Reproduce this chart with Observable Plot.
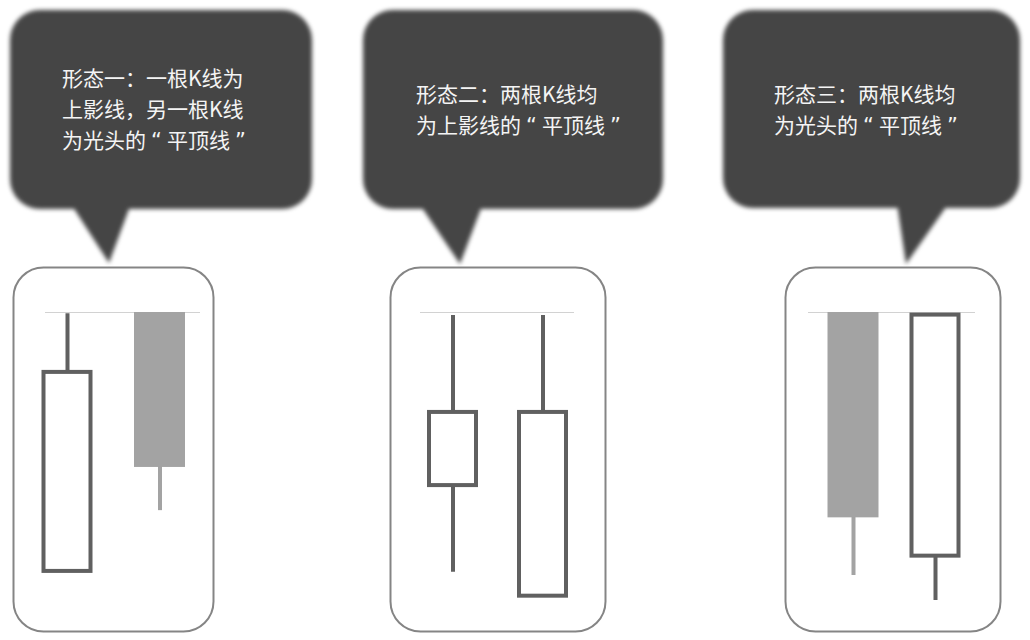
<!DOCTYPE html>
<html>
<head>
<meta charset="utf-8">
<script src="https://cdn.jsdelivr.net/npm/d3@7"></script>
<script src="https://cdn.jsdelivr.net/npm/@observablehq/plot@0.6"></script>
<style>
  html, body { margin: 0; padding: 0; background: #fff; }
  #stage { position: relative; width: 1030px; height: 640px; overflow: hidden; background: #fff; }
  .bubble-shape { position: absolute; left: 0; top: 0; width: 1030px; height: 300px; filter: blur(2px); }
  .bubble-rect, .bubble-tail { position: absolute; background: #454545; }
  .bubble-rect { border-radius: 30px; }
  .bubble-text {
    position: absolute; color: #f4f4f4;
    font-family: "Noto Sans CJK SC", "Noto Sans", sans-serif;
    font-size: 21px; line-height: 31px; white-space: pre; letter-spacing: 0;
  }
  .bubble-text .fw { font-family: "DejaVu Sans", sans-serif; display: inline-block; width: 21px; text-align: center; }
  .panel { position: absolute; top: 260px; }
</style>
</head>
<body>
<div id="stage"></div>
<script>
// ---------- data ----------
const panelNames = ["形态一", "形态二", "形态三"];
const bubbleLines = [
  ["形态一：一根K线为", "上影线，另一根K线", "为光头的“平顶线”"],
  ["形态二：两根K线均", "为上影线的“平顶线”"],
  ["形态三：两根K线均", "为光头的“平顶线”"]
];
const candleIds   = ["A", "B", "C", "D", "E", "F"];
const candlePanel = [0, 0, 1, 1, 2, 2];
const candleOpen  = [10.1, 100, 39.9, 1.5, 100, 15.4];
const candleClose = [79.2, 46.2, 65.3, 65.3, 28.7, 99.1];
const candleHigh  = [99.6, 100, 99, 99, 100, 99.1];
const candleLow   = [10.1, 31.2, 9.8, 1.5, 8.7, 0];
const flatTop     = [100, 100, 100];

// ---------- layout (positions / sizes / styles) ----------
const DARK = "#606060", LIGHT = "#a3a3a3", BORDER = "#858585", TOPLINE = "#d2d2d2";
const bubbleLayout = [
  {rect: [10, 10, 302, 199], tail: [[62, 190], [136, 190], [109, 263]], text: [62, 62]},
  {rect: [363, 10, 300, 199], tail: [[410, 190], [488, 190], [460, 264]], text: [416, 78]},
  {rect: [723, 10, 297, 198], tail: [[895, 190], [958, 190], [906, 264]], text: [774, 78]}
];
const panelLayout = [
  {left: 11, width: 204, centers: [56, 148.5], lineInset: [32, 13]},
  {left: 388, width: 219, centers: [64.5, 154.5], lineInset: [30, 31]},
  {left: 783, width: 219, centers: [70, 152], lineInset: [23, 25]}
];
const BODY_W = 51;

const stage = document.getElementById("stage");

// bubbles (callout annotations)
const shapes = document.createElement("div");
shapes.className = "bubble-shape";
stage.appendChild(shapes);
bubbleLayout.forEach((b, i) => {
  const r = document.createElement("div");
  r.className = "bubble-rect";
  Object.assign(r.style, {left: b.rect[0] + "px", top: b.rect[1] + "px", width: b.rect[2] + "px", height: b.rect[3] + "px"});
  shapes.appendChild(r);
  const xs = b.tail.map(p => p[0]), ys = b.tail.map(p => p[1]);
  const x0 = Math.min(...xs), y0 = Math.min(...ys), w = Math.max(...xs) - x0, h = Math.max(...ys) - y0;
  const t = document.createElement("div");
  t.className = "bubble-tail";
  Object.assign(t.style, {left: x0 + "px", top: y0 + "px", width: w + "px", height: h + "px"});
  t.style.clipPath = "polygon(" + b.tail.map(p => (p[0] - x0) + "px " + (p[1] - y0) + "px").join(",") + ")";
  shapes.appendChild(t);
  const tx = document.createElement("div");
  tx.className = "bubble-text";
  tx.style.left = b.text[0] + "px";
  tx.style.top = b.text[1] + "px";
  bubbleLines[i].forEach((line, k) => {
    if (k > 0) tx.appendChild(document.createTextNode("\n"));
    let buf = "";
    for (const ch of line) {
      if (ch === "“" || ch === "”") {
        if (buf) { tx.appendChild(document.createTextNode(buf)); buf = ""; }
        const sp = document.createElement("span");
        sp.className = "fw";
        sp.textContent = ch;
        tx.appendChild(sp);
      } else buf += ch;
    }
    if (buf) tx.appendChild(document.createTextNode(buf));
  });
  stage.appendChild(tx);
});

// candles table
const candles = candleIds.map((id, i) => ({
  id, panel: candlePanel[i], open: candleOpen[i], close: candleClose[i],
  high: candleHigh[i], low: candleLow[i], hollow: candleClose[i] > candleOpen[i]
}));

panelNames.forEach((name, p) => {
  const L = panelLayout[p];
  const data = candles.filter(d => d.panel === p);
  const s = L.centers[1] - L.centers[0];
  const pi = 1 - BODY_W / s;
  const chart = Plot.plot({
    width: L.width, height: 380,
    marginLeft: 2, marginRight: 2, marginTop: 7, marginBottom: 9,
    x: {type: "band", domain: data.map(d => d.id), range: [L.centers[0] - s / 2, L.centers[1] + s / 2],
        paddingInner: pi, paddingOuter: pi / 2, align: 0.5, round: false, axis: null},
    y: {domain: [0, 100], range: [340, 52], axis: null},
    marks: [
      Plot.frame({stroke: BORDER, strokeWidth: 2, rx: 30, ry: 30}),
      Plot.ruleY([flatTop[p]], {stroke: TOPLINE, strokeWidth: 1, insetLeft: L.lineInset[0], insetRight: L.lineInset[1]}),
      Plot.ruleX(data, {x: "id", y1: "low", y2: "high", stroke: d => d.hollow ? DARK : LIGHT, strokeWidth: 4}),
      Plot.barY(data.filter(d => !d.hollow), {x: "id", y1: "open", y2: "close", fill: LIGHT}),
      Plot.barY(data.filter(d => d.hollow), {x: "id", y1: "open", y2: "close", fill: "white", stroke: DARK, strokeWidth: 4, insetLeft: 2, insetRight: 2})
    ]
  });
  chart.classList.add("panel");
  chart.style.left = L.left + "px";
  chart.setAttribute("aria-label", name);
  stage.appendChild(chart);
});
</script>
</body>
</html>
